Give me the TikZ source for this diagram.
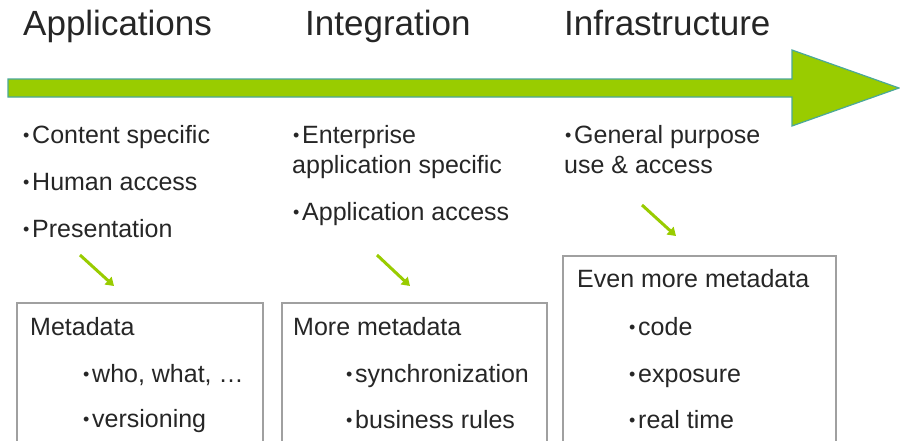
\documentclass[tikz,border=0pt]{standalone}
\usepackage{fontspec}
\setmainfont{Liberation Sans}
\usetikzlibrary{arrows.meta}
\definecolor{arrowgreen}{HTML}{99CC00}
\definecolor{arrowedge}{HTML}{4BA89A}
\definecolor{txt}{HTML}{262626}
\definecolor{boxgray}{HTML}{A0A0A0}
\newcommand{\bul}{\makebox[10pt][l]{\hspace{1pt}\raisebox{2pt}{\fontsize{18}{18}\selectfont •}}}
\begin{document}
\begin{tikzpicture}[x=1pt,y=-1pt,
  title/.style={anchor=base west, inner sep=0, font=\fontsize{35}{35}\selectfont, text=txt},
  item/.style={anchor=base west, inner sep=0, font=\fontsize{25}{25}\selectfont, text=txt},
  mbox/.style={draw=boxgray, line width=2.5pt, fill=white, anchor=north west, inner sep=0, outer sep=0},
  pointer/.style={draw=arrowgreen, line width=3pt, -{Triangle[length=8pt,width=10pt]}},
  bigarrow/.style={fill=arrowgreen, draw=arrowedge, line width=1.2pt, line join=miter}]
\clip (0,0) rectangle (900,440);
\fill[white] (0,0) rectangle (900,440);

% titles
\node[title] (t1) at (23,35) {Applications};
\node[title] (t2) at (305,35) {Integration};
\node[title] (t3) at (564,35) {Infrastructure};

% big arrow
\draw[bigarrow] (8,79) -- (792,79) -- (792,50) -- (899,88) -- (792,126) -- (792,97) -- (8,97) -- cycle;

% column 1
\node[item] (a1) at (22,143) {\bul Content specific};
\node[item] (a2) at (22,190) {\bul Human access};
\node[item] (a3) at (22,237) {\bul Presentation};

% column 2
\node[item] (e1) at (292,143) {\bul Enterprise};
\node[item] (e2) at (292,173) {application specific};
\node[item] (e3) at (292,220) {\bul Application access};

% column 3
\node[item] (g1) at (564,143) {\bul General purpose};
\node[item] (g2) at (564,173) {use \& access};

% boxes
\node[mbox, minimum width=246pt, minimum height=170pt] (b1) at (17,303) {};
\node[mbox, minimum width=265pt, minimum height=170pt] (b2) at (282,303) {};
\node[mbox, minimum width=273pt, minimum height=215pt] (b3) at (563,256) {};

% box texts
\node[item] (m1) at (30,335) {Metadata};
\node[item] (m2) at (82,382) {\bul who, what, …};
\node[item] (m3) at (82,427) {\bul versioning};

\node[item] (n1) at (293,335) {More metadata};
\node[item] (n2) at (345,382) {\bul synchronization};
\node[item] (n3) at (345,428) {\bul business rules};

\node[item] (o1) at (577,287) {Even more metadata};
\node[item] (o2) at (628,335) {\bul code};
\node[item] (o3) at (628,382) {\bul exposure};
\node[item] (o4) at (628,428) {\bul real time};

% pointers
\coordinate (p1s) at (80,255);
\coordinate (p1e) at (114,286);
\coordinate (p2s) at (377,255);
\coordinate (p2e) at (410,286);
\coordinate (p3s) at (642,205);
\coordinate (p3e) at (676,236);
\draw[pointer] (p1s) -- (p1e);
\draw[pointer] (p2s) -- (p2e);
\draw[pointer] (p3s) -- (p3e);
\end{tikzpicture}
\end{document}
